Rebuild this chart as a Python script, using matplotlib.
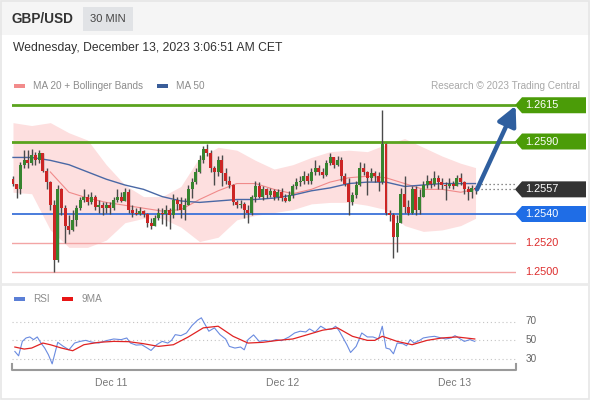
import numpy as np
import matplotlib
matplotlib.use("Agg")
import matplotlib.pyplot as plt
from matplotlib.patches import Rectangle, Polygon

plt.rcParams['font.family'] = ['Liberation Sans', 'DejaVu Sans']

# ---- data (30 min GBP/USD candles) ----
first_open = 1.2564
closes = [1.2561, 1.2557, 1.2574, 1.2577, 1.2575, 1.2581, 1.2577, 1.2582, 1.2570, 1.2562,
          1.2546, 1.2508, 1.2557, 1.2544, 1.2532, 1.2529, 1.2536, 1.2544, 1.2550, 1.2552,
          1.2548, 1.2552, 1.2545, 1.2546, 1.2544, 1.2546, 1.2544, 1.2550, 1.2552, 1.2549,
          1.2555, 1.2543, 1.2541, 1.2540, 1.2542, 1.2540, 1.2534, 1.2532, 1.2537, 1.2541,
          1.2540, 1.2543, 1.2539, 1.2550, 1.2547, 1.2543, 1.2546, 1.2557, 1.2562, 1.2569,
          1.2577, 1.2585, 1.2582, 1.2572, 1.2569, 1.2577, 1.2568, 1.2563, 1.2560, 1.2548,
          1.2546, 1.2547, 1.2543, 1.2541, 1.2552, 1.2559, 1.2552, 1.2557, 1.2553, 1.2556,
          1.2552, 1.2555, 1.2551, 1.2549, 1.2553, 1.2559, 1.2562, 1.2563, 1.2566, 1.2563,
          1.2569, 1.2572, 1.2569, 1.2567, 1.2575, 1.2579, 1.2574, 1.2577, 1.2566, 1.2561,
          1.2548, 1.2553, 1.2560, 1.2572, 1.2569, 1.2565, 1.2568, 1.2566, 1.2562, 1.2588,
          1.2541, 1.2539, 1.2524, 1.2534, 1.2554, 1.2545, 1.2541, 1.2557, 1.2543, 1.2552,
          1.2560, 1.2563, 1.2561, 1.2565, 1.2562, 1.2560, 1.2559, 1.2561, 1.2559, 1.2565,
          1.2562, 1.2557, 1.2555, 1.2558, 1.2557]
highs = [1.2566, 1.2561, 1.2576, 1.2584, 1.2584, 1.2585, 1.2583, 1.2584, 1.2581, 1.2572,
         1.2563, 1.2550, 1.2560, 1.2558, 1.2546, 1.2539, 1.2543, 1.2546, 1.2552, 1.2557,
         1.2554, 1.2555, 1.2553, 1.2550, 1.2548, 1.2548, 1.2548, 1.2552, 1.2557, 1.2555,
         1.2558, 1.2557, 1.2546, 1.2544, 1.2545, 1.2543, 1.2541, 1.2537, 1.2539, 1.2544,
         1.2544, 1.2546, 1.2544, 1.2554, 1.2552, 1.2552, 1.2551, 1.2560, 1.2565, 1.2572,
         1.2581, 1.2587, 1.2588, 1.2584, 1.2573, 1.2580, 1.2581, 1.2572, 1.2566, 1.2561,
         1.2550, 1.2550, 1.2548, 1.2546, 1.2553, 1.2563, 1.2562, 1.2559, 1.2558, 1.2558,
         1.2557, 1.2557, 1.2558, 1.2554, 1.2556, 1.2561, 1.2565, 1.2566, 1.2570, 1.2568,
         1.2572, 1.2577, 1.2574, 1.2572, 1.2577, 1.2582, 1.2579, 1.2580, 1.2579, 1.2568,
         1.2565, 1.2555, 1.2563, 1.2576, 1.2575, 1.2570, 1.2572, 1.2570, 1.2569, 1.2612,
         1.2589, 1.2543, 1.2541, 1.2539, 1.2558, 1.2566, 1.2550, 1.2559, 1.2559, 1.2557,
         1.2563, 1.2567, 1.2565, 1.2570, 1.2567, 1.2565, 1.2562, 1.2565, 1.2563, 1.2567,
         1.2568, 1.2563, 1.2559, 1.2560, 1.2559]
lows = [1.2559, 1.2551, 1.2554, 1.2572, 1.2572, 1.2574, 1.2574, 1.2575, 1.2569, 1.2557,
        1.2543, 1.2500, 1.2507, 1.2539, 1.2520, 1.2526, 1.2528, 1.2532, 1.2543, 1.2548,
        1.2546, 1.2547, 1.2543, 1.2541, 1.2539, 1.2541, 1.2540, 1.2543, 1.2548, 1.2548,
        1.2550, 1.2541, 1.2538, 1.2539, 1.2539, 1.2538, 1.2531, 1.2530, 1.2532, 1.2536,
        1.2533, 1.2532, 1.2530, 1.2537, 1.2543, 1.2537, 1.2536, 1.2546, 1.2551, 1.2561,
        1.2568, 1.2575, 1.2580, 1.2569, 1.2560, 1.2566, 1.2559, 1.2561, 1.2558, 1.2546,
        1.2544, 1.2544, 1.2537, 1.2534, 1.2539, 1.2548, 1.2551, 1.2550, 1.2551, 1.2552,
        1.2550, 1.2550, 1.2549, 1.2548, 1.2549, 1.2551, 1.2557, 1.2559, 1.2561, 1.2561,
        1.2561, 1.2567, 1.2567, 1.2565, 1.2566, 1.2574, 1.2572, 1.2573, 1.2563, 1.2559,
        1.2539, 1.2546, 1.2551, 1.2559, 1.2567, 1.2553, 1.2563, 1.2562, 1.2556, 1.2561,
        1.2539, 1.2535, 1.2510, 1.2514, 1.2537, 1.2541, 1.2539, 1.2540, 1.2539, 1.2540,
        1.2553, 1.2558, 1.2558, 1.2559, 1.2557, 1.2557, 1.2550, 1.2558, 1.2557, 1.2559,
        1.2560, 1.2554, 1.2550, 1.2551, 1.2554]

# indicator values, sampled every 5 bars
band_bar = [0, 5, 10, 15, 20, 25, 30, 35, 40, 45, 50, 55, 60, 65, 70, 75, 80, 85, 90,
            95, 100, 105, 110, 115, 120, 124]
bb_upper = [1.2603, 1.2601, 1.2603, 1.2596, 1.2591, 1.2574, 1.2560, 1.2552, 1.2552, 1.2559,
            1.2579, 1.2586, 1.2584, 1.2577, 1.2571, 1.2574, 1.2579, 1.2583, 1.2584, 1.2583,
            1.2588, 1.2592, 1.2586, 1.2580, 1.2575, 1.2572]
bb_lower = [1.2555, 1.2554, 1.2529, 1.2517, 1.2517, 1.2522, 1.2534, 1.2537, 1.2537, 1.2531,
            1.2521, 1.2524, 1.2536, 1.2539, 1.2541, 1.2543, 1.2547, 1.2548, 1.2548, 1.2546,
            1.2543, 1.2532, 1.2528, 1.2529, 1.2532, 1.2537]
ma50 = [1.2579, 1.2579, 1.2577, 1.2574, 1.2569, 1.2564, 1.2560, 1.2557, 1.2552, 1.2549,
        1.2548, 1.2549, 1.2550, 1.2550, 1.2551, 1.2553, 1.2556, 1.2558, 1.2561, 1.2562,
        1.2562, 1.2559, 1.2560, 1.2561, 1.2561, 1.2561]
ma20 = [1.2569, 1.2555, 1.2551, 1.2548, 1.2546, 1.2544, 1.2542, 1.2543, 1.2550, 1.2556,
        1.2561, 1.2561, 1.2557, 1.2554, 1.2557, 1.2562, 1.2565, 1.2566, 1.2565, 1.2561,
        1.2557, 1.2557, 1.2555, 1.2557]  # starts at bar 10

rsi_bar = [0.5, 1.5, 2.5, 3.5, 4.5, 5.5, 6.5, 7.5, 8.5, 9.5, 10.5, 12, 13.5, 15, 16.5, 18,
           19.5, 21, 23, 25, 27, 29, 30.5, 31.5, 33, 34.5, 36, 37, 38.5, 40, 41.5, 42.5,
           43.5, 45, 46.5, 48, 49.5, 50.5, 51.5, 52.5, 54, 55.5, 57, 58, 59.5, 61, 62, 63,
           64.5, 66, 67.5, 69, 70.5, 72, 74, 75.5, 77, 78.5, 79.5, 81, 82.5, 84, 85.5, 86.5,
           87.5, 88.5, 89.5, 90.5, 92, 93.5, 95, 96.5, 98, 99, 100, 101, 102, 103, 104.5,
           105.5, 106.5, 107.5, 109, 110, 111.5, 113, 114.5, 116, 117.5, 118.5, 119.5, 121,
           122.5, 123.8]
rsi_val = [37.6, 32.9, 48.5, 52.2, 53.3, 50.4, 53.3, 46.7, 41.3, 34.0, 24.2, 47.5, 43.1,
           39.4, 46.7, 48.5, 49.6, 47.8, 46.7, 49.3, 51.1, 50.4, 52.2, 46.7, 44.5, 44.9,
           41.3, 38.7, 44.9, 48.5, 46.7, 49.6, 55.8, 54.7, 57.6, 65.7, 71.5, 74.0, 66.7,
           59.5, 63.1, 55.8, 51.1, 43.1, 41.3, 42.4, 39.4, 50.4, 55.5, 48.5, 49.6, 48.5,
           50.4, 49.3, 53.3, 57.6, 59.5, 58.7, 62.0, 58.4, 64.9, 61.3, 62.0, 64.9, 59.5,
           52.2, 44.9, 36.5, 43.1, 57.6, 53.3, 53.3, 51.1, 64.9, 41.3, 40.2, 35.1, 46.7,
           46.0, 43.8, 50.4, 46.7, 49.6, 52.2, 53.3, 54.0, 52.5, 51.1, 52.2, 54.7, 52.2,
           48.5, 50.4, 48.5]
ma9_bar = [0.5, 3, 5, 8, 10, 13, 16, 19, 23, 27, 31, 35, 39, 43, 47, 51, 55, 59, 63, 67,
           71, 75, 79, 83, 87, 91, 95, 97, 99, 103, 107, 111, 115, 119, 123.8]
ma9_val = [42.4, 40.2, 41.3, 46.7, 44.9, 41.3, 38.4, 44.9, 47.5, 48.5, 48.2, 46.0, 43.1,
           44.9, 53.3, 63.1, 64.9, 54.0, 46.7, 47.5, 49.6, 51.1, 55.8, 60.6, 63.1, 54.0,
           49.6, 49.6, 54.0, 48.5, 44.9, 49.6, 52.2, 53.3, 51.1]

levels = [1.2615, 1.2590, 1.2540, 1.2520, 1.2500]
level_kind = ['res', 'res', 'piv', 'sup', 'sup']
day_pos = [26.3, 72.4, 118.5]
day_labels = ['Dec 11', 'Dec 12', 'Dec 13']

W, H = 590, 400
def fx(px):
    return px / W
def fy(py):
    return 1 - py / H

fig = plt.figure(figsize=(W / 100, H / 100), dpi=100)
fig.patch.set_facecolor('white')

# header
fig.add_artist(Rectangle((0, fy(35)), 1, 35 / H, transform=fig.transFigure,
                         facecolor='#f5f5f5', edgecolor='none'))
fig.add_artist(Rectangle((fx(83), fy(31)), 50 / W, 24 / H, transform=fig.transFigure,
                         facecolor='#e1e3e6', edgecolor='none'))
fig.text(fx(12), fy(19), 'GBP/USD', fontsize=9.8, fontweight='bold', color='#333333', va='center')
fig.text(fx(108), fy(19), '30 MIN', fontsize=8, color='#444444', va='center', ha='center')
fig.text(fx(13), fy(48), 'Wednesday, December 13, 2023 3:06:51 AM CET', fontsize=8.7,
         color='#333333', va='center')

# legends
def legend_patch(x, y, color):
    fig.add_artist(Rectangle((fx(x), fy(y + 2)), 11 / W, 4 / H, transform=fig.transFigure,
                             facecolor=color, edgecolor='none'))
legend_patch(14, 86, '#f28b8b')
fig.text(fx(33), fy(86), 'MA 20 + Bollinger Bands', fontsize=7.2, color='#8c8c8c', va='center')
legend_patch(157, 86, '#3a5d99')
fig.text(fx(176), fy(86), 'MA 50', fontsize=7.2, color='#8c8c8c', va='center')
fig.text(fx(580), fy(86), 'Research \u00a9 2023 Trading Central', fontsize=7.2, color='#a8a8a8',
         va='center', ha='right')
legend_patch(14, 299, '#5b7fd6')
fig.text(fx(33), fy(299), 'RSI', fontsize=7.2, color='#8c8c8c', va='center')
legend_patch(62, 299, '#e81515')
fig.text(fx(82), fy(299), '9MA', fontsize=7.2, color='#8c8c8c', va='center')

# frame and separator
fig.add_artist(plt.Line2D([0, 1], [fy(284), fy(284)], transform=fig.transFigure,
                          color='#ebebeb', lw=2))
fig.add_artist(Rectangle((0.001, 0.003), 0.997, 0.995, transform=fig.transFigure,
                         facecolor='none', edgecolor='#e6e6e6', lw=1.2))

# price panel
px_per_bar = 3.73
x_left, x_right = 12, 516
xlim = ((x_left - 13) / px_per_bar, (x_right - 13) / px_per_bar)
ax = fig.add_axes([fx(x_left), fy(282), (x_right - x_left) / W, (282 - 95) / H])
ax.set_xlim(*xlim)
ax.set_ylim(1.25 - 10 / 14500, 1.25 + 177 / 14500)
ax.axis('off')

ax.fill_between(band_bar, bb_lower, bb_upper, color='#fddfdf', lw=0, zorder=1)

line_style = {'res': ('#5ba31e', 2.0), 'piv': ('#3c72d9', 1.3), 'sup': ('#f3a5a5', 1.0)}
for lv, kind in zip(levels, level_kind):
    c, lw = line_style[kind]
    ax.axhline(lv, color=c, lw=lw, zorder=2)

ax.plot(band_bar[2:], ma20, color='#f08a8a', lw=0.8, zorder=3)
ax.plot(band_bar, ma50, color='#4a68a5', lw=1.0, zorder=3)

n = len(closes)
idx = np.arange(n)
opens = np.array([first_open] + closes[:-1])
cl = np.array(closes)
hi = np.maximum(np.array(highs), np.maximum(opens, cl))
lo = np.minimum(np.array(lows), np.minimum(opens, cl))
up = cl >= opens
ax.vlines(idx, lo, hi, color='#4a4a4a', lw=1.0, zorder=4)
body = np.maximum(np.abs(cl - opens), 0.00005)
ax.bar(idx, body, bottom=np.minimum(opens, cl), width=0.8,
       color=np.where(up, '#37842f', '#cc2525'), edgecolor='none', zorder=5)

# dotted guides from the last bar
for val in (ma50[-1], closes[-1]):
    ax.plot([n - 0.5, xlim[1]], [val, val], color='#666666', lw=0.9, ls=(0, (1, 2.2)),
            zorder=3, clip_on=False)

# forecast arrow
ax.annotate('', xy=(xlim[1] - 0.1, levels[0] - 0.00003), xytext=(n - 0.6, closes[-1]),
            arrowprops=dict(arrowstyle='-|>,head_width=0.45,head_length=0.9', lw=3.2,
                            color='#2f5f9f', shrinkA=0, shrinkB=0, mutation_scale=13),
            zorder=6)

# right-hand labels
inv = fig.transFigure.inverted()
def level_y(val):
    return inv.transform(ax.transData.transform((0, val)))[1]

def tag(val, face, text_color='white'):
    yc = level_y(val)
    h = 8 / H
    if face is not None:
        pts = [(fx(515), yc), (fx(522), yc + h), (fx(586), yc + h), (fx(586), yc - h),
               (fx(522), yc - h)]
        fig.add_artist(Polygon(pts, closed=True, transform=fig.transFigure,
                               facecolor=face, edgecolor='none'))
    fig.text(fx(525), yc, f'{val:.4f}', fontsize=7.8, color=text_color, va='center')

tag_face = {'res': '#4b9c08', 'piv': '#1f6de6'}
for lv, kind in zip(levels, level_kind):
    if kind == 'sup':
        tag(lv, None, '#dd2c2c')
    else:
        tag(lv, tag_face[kind])
tag(closes[-1], '#333333')

# RSI panel
ax2 = fig.add_axes([fx(x_left), fy(370), (x_right - x_left) / W, (370 - 305) / H])
ax2.set_xlim(*xlim)
ax2.set_ylim(50 - 30 * 20 / 18.5, 50 + 35 * 20 / 18.5)
for s in ax2.spines.values():
    s.set_visible(False)
ax2.set_yticks([])
for g in (30, 50, 70):
    ax2.axhline(g, color='#c4c4c4', lw=0.8, ls=(0, (1, 2.5)))
    ax2.text(xlim[1] + 15 / px_per_bar, g, str(g), fontsize=7.2, color='#666666',
             va='center', ha='center', clip_on=False)
ax2.plot(rsi_bar, rsi_val, color='#6a8be0', lw=0.8)
ax2.plot(ma9_bar, ma9_val, color='#e02323', lw=0.9)
ax2.plot([0, 0, 1, 1], [0.1, 0, 0, 0.1], transform=ax2.transAxes, color='#9a9a9a', lw=1.5,
         clip_on=False)
ax2.set_xticks(day_pos)
ax2.set_xticklabels(day_labels, fontsize=7.5, color='#777777')
ax2.tick_params(axis='x', length=0, pad=6)

fig.savefig('out.png', dpi=100)
